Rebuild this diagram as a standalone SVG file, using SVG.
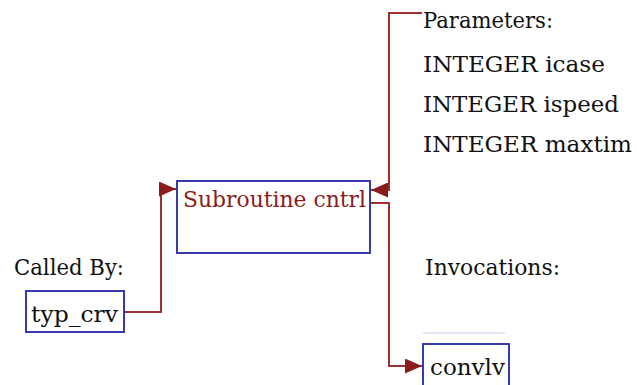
<svg xmlns="http://www.w3.org/2000/svg" width="637" height="385" viewBox="0 0 637 385">
<style>
.t{font-family:"DejaVu Serif","Liberation Serif",serif;font-size:22px;fill:#111}
.n{font-family:"DejaVu Serif","Liberation Serif",serif;font-size:22px;fill:#8b1c1c}
.box{fill:#fff;stroke:#3a3ab0;stroke-width:2}
.c{fill:none;stroke:#a03030;stroke-width:2}
</style>
<defs>
<marker id="ah" markerWidth="17" markerHeight="15" refX="17" refY="7.5" orient="auto" markerUnits="userSpaceOnUse">
<path d="M0,0 L17,7.5 L0,15 z" fill="#8b1c1c"/>
</marker>
</defs>
<rect width="637" height="385" fill="#fff"/>
<g id="connectors">
<path class="c" d="M124,312 H161 V189 H176" marker-end="url(#ah)"/>
<path class="c" d="M422,13 H389 V190 H371" marker-end="url(#ah)"/>
<path class="c" d="M371,203 H389 V366 H422" marker-end="url(#ah)"/>
</g>
<g id="cntrl">
<rect class="box" x="177" y="181" width="193" height="72"/>
<text class="n" x="183" y="207" textLength="183" lengthAdjust="spacingAndGlyphs">Subroutine cntrl</text>
</g>
<g id="called-by">
<text class="t" x="14" y="275" textLength="110" lengthAdjust="spacingAndGlyphs">Called By:</text>
</g>
<g id="typ_crv">
<rect class="box" x="26" y="291" width="98" height="41"/>
<text class="t" x="31" y="322" textLength="87" lengthAdjust="spacingAndGlyphs">typ_crv</text>
</g>
<g id="parameters">
<text class="t" x="423" y="28" textLength="130" lengthAdjust="spacingAndGlyphs">Parameters:</text>
<text class="t" x="423" y="72" textLength="182" lengthAdjust="spacingAndGlyphs">INTEGER icase</text>
<text class="t" x="423" y="112" textLength="196" lengthAdjust="spacingAndGlyphs">INTEGER ispeed</text>
<text class="t" x="423" y="152" textLength="209" lengthAdjust="spacingAndGlyphs">INTEGER maxtim</text>
</g>
<g id="invocations">
<text class="t" x="425" y="275" textLength="135" lengthAdjust="spacingAndGlyphs">Invocations:</text>
</g>
<g id="convlv">
<line x1="423" y1="333" x2="505" y2="333" stroke="#c8c8f0" stroke-width="1"/>
<rect class="box" x="423" y="344" width="86" height="50"/>
<text class="t" x="430" y="375" textLength="75" lengthAdjust="spacingAndGlyphs">convlv</text>
</g>
</svg>
